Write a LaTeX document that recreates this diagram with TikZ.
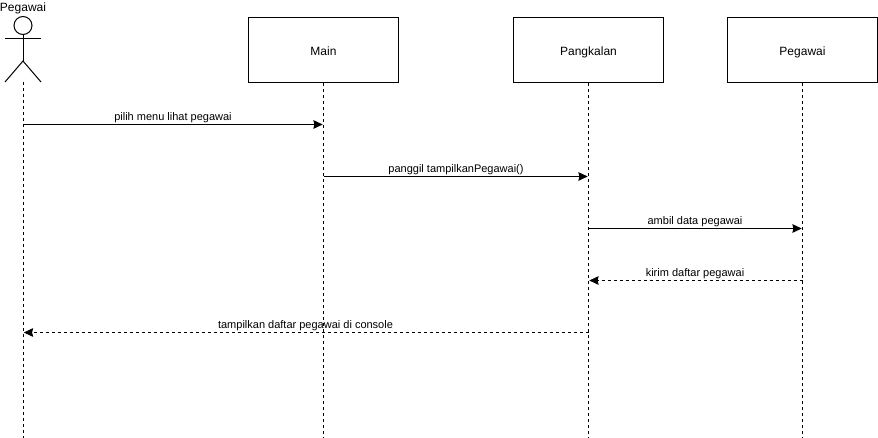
\documentclass[tikz,border=0pt]{standalone}
\usepackage{fontspec}
\setmainfont{Liberation Sans}
\usetikzlibrary{arrows.meta}
\tikzset{
  box/.style={draw=black,fill=white,minimum width=112.5pt,minimum height=48.75pt,inner sep=0pt,text height=8pt,text depth=0pt,font=\fontsize{9}{11}\selectfont,line width=0.75pt},
  life/.style={draw=black,dash pattern=on 2.25pt off 2.25pt,line width=0.75pt},
  msg/.style={draw=black,line width=0.75pt,shorten >=0.6pt,-{Stealth[length=7pt,width=6.5pt,inset=0.8pt]}},
  ret/.style={msg,dash pattern=on 2.25pt off 2.25pt},
  lbl/.style={font=\fontsize{8.25}{10}\selectfont,inner sep=0pt,anchor=base},
  actorline/.style={draw=black,line width=0.75pt}
}
\begin{document}
\begin{tikzpicture}[x=0.75pt,y=-0.75pt]
\useasboundingbox (0,0) rectangle (878,438);
% lifeline ends
\coordinate (aBot) at (23,82);
\coordinate (aEnd) at (23,438);
\coordinate (mEnd) at (323.5,438);
\coordinate (pEnd) at (588.5,438);
\coordinate (gEnd) at (802.5,438);
% boxes
\node[box] (main) at (323.5,50) {Main};
\node[box] (pang) at (588.5,50) {Pangkalan};
\node[box] (peg) at (802.5,50) {Pegawai};
% lifelines
\draw[life] (aBot) -- (aEnd);
\draw[life] (main.south) -- (mEnd);
\draw[life] (pang.south) -- (pEnd);
\draw[life] (peg.south) -- (gEnd);
% actor
\draw[actorline] (23,25.5) circle (9);
\draw[actorline] (23,34.5) -- (23,61);
\draw[actorline] (5,39) -- (41,39);
\draw[actorline] (5,82) -- (23,61) -- (41,82);
\node[font=\fontsize{9}{11}\selectfont,inner sep=0pt,anchor=base] (actorname) at (23,12) {Pegawai};
% message anchors
\coordinate (a1) at (23,124.5);
\coordinate (m1) at (323.5,124.5);
\coordinate (m2) at (323.5,176.5);
\coordinate (p2) at (588.5,176.5);
\coordinate (p3) at (588.5,228.5);
\coordinate (g3) at (802.5,228.5);
\coordinate (g4) at (802.5,280.5);
\coordinate (p4) at (588.5,280.5);
\coordinate (p5) at (588.5,332.5);
\coordinate (a5) at (23,332.5);
% messages
\draw[msg] (a1) -- (m1);
\draw[msg] (m2) -- (p2);
\draw[msg] (p3) -- (g3);
\draw[ret] (g4) -- (p4);
\draw[ret] (p5) -- (a5);
% labels
\node[lbl] (l1) at (173,120.5) {pilih menu lihat pegawai};
\node[lbl] (l2) at (456,172.5) {panggil tampilkanPegawai()};
\node[lbl] (l3) at (695,224.5) {ambil data pegawai};
\node[lbl] (l4) at (695,276.5) {kirim daftar pegawai};
\node[lbl] (l5) at (305.5,328.5) {tampilkan daftar pegawai di console};
\end{tikzpicture}
\end{document}
